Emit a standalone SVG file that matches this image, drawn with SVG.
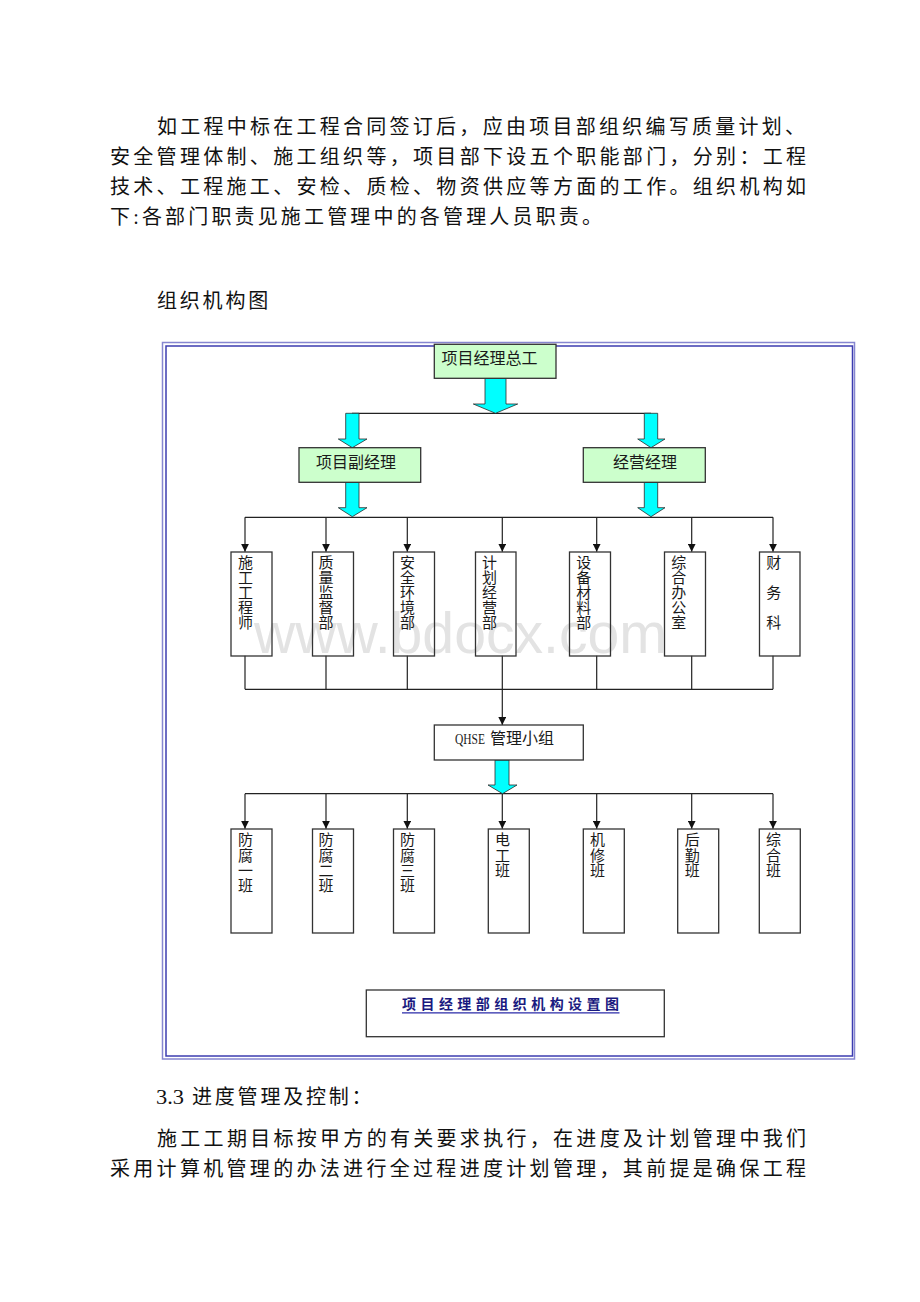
<svg xmlns="http://www.w3.org/2000/svg" width="920" height="1302" viewBox="0 0 920 1302">
<style>
.body{font-family:'Liberation Serif','Noto Sans CJK SC',serif;font-size:20px;fill:#111;}
.lbl{font-family:'Liberation Sans','Noto Sans CJK SC',sans-serif;font-size:16px;fill:#1a1a1a;}
.vt{font-family:'Liberation Sans','Noto Sans CJK SC',sans-serif;font-size:15px;fill:#1a1a1a;}
.box{fill:none;stroke:#333;stroke-width:1.3;}
.gbox{fill:#ccffcc;stroke:#333;stroke-width:1.3;}
.wbox{fill:#fff;stroke:#333;stroke-width:1.3;}
.ln{fill:none;stroke:#222;stroke-width:1.2;}
.arr{fill:none;stroke:#222;stroke-width:1.2;marker-end:url(#ah);}
.cyan{fill:#00ffff;stroke:#2b2b2b;stroke-width:0.8;}
.wm{font-family:'Liberation Sans',Arial,sans-serif;font-size:57px;fill:#e3e3e3;}
.cap{font-family:'Noto Sans CJK SC',sans-serif;font-size:14px;font-weight:bold;fill:#1a1a80;}
</style>
<defs>
<marker id="ah" viewBox="0 0 10 10" refX="10" refY="5" markerWidth="8" markerHeight="8" markerUnits="userSpaceOnUse" orient="auto">
<path d="M0,0 L10,5 L0,10 z" fill="#111"/>
</marker>
</defs>
<rect width="920" height="1302" fill="#fff"/>

<g id="text-top">
<text class="body" x="157" y="134.3" textLength="648" lengthAdjust="spacing">如工程中标在工程合同签订后，应由项目部组织编写质量计划、</text>
<text class="body" x="110" y="164.3" textLength="696" lengthAdjust="spacing">安全管理体制、施工组织等，项目部下设五个职能部门，分别：工程</text>
<text class="body" x="110" y="194.3" textLength="696" lengthAdjust="spacing">技术、工程施工、安检、质检、物资供应等方面的工作。组织机构如</text>
<text class="body" x="110" y="224.3" textLength="492" lengthAdjust="spacing">下:各部门职责见施工管理中的各管理人员职责。</text>
<text class="body" x="157" y="307.6" letter-spacing="2.8">组织机构图</text>
</g>

<g id="frame">
<rect x="162.5" y="342.5" width="692" height="716.5" fill="none" stroke="#8686d0" stroke-width="1.5"/>
<rect x="166" y="346" width="686.5" height="710" fill="none" stroke="#3c3cb0" stroke-width="1.5"/>
</g>

<text class="wm" x="254" y="653" textLength="413" lengthAdjust="spacingAndGlyphs">www.bdocx.com</text>

<g id="connectors">
<line class="ln" x1="352" y1="413.3" x2="651" y2="413.3"/>
<line class="ln" x1="245" y1="517.3" x2="773" y2="517.3"/>
<path class="arr" d="M245,517.3 V551.7"/>
<path class="arr" d="M326,517.3 V551.7"/>
<path class="arr" d="M407.3,517.3 V551.7"/>
<path class="arr" d="M502.3,517.3 V551.7"/>
<path class="arr" d="M596.7,517.3 V551.7"/>
<path class="arr" d="M691.7,517.3 V551.7"/>
<path class="arr" d="M773,517.3 V551.7"/>
<path class="ln" d="M245,655.7 V689.3 M326,655.7 V689.3 M407.3,655.7 V689.3 M502.3,655.7 V689.3 M596.7,655.7 V689.3 M691.7,655.7 V689.3 M773,655.7 V689.3 M245,689.3 H773"/>
<path class="arr" d="M502.3,689.3 V725"/>
<line class="ln" x1="245" y1="793.7" x2="773" y2="793.7"/>
<path class="arr" d="M245,793.7 V828.7"/>
<path class="arr" d="M326,793.7 V828.7"/>
<path class="arr" d="M407.3,793.7 V828.7"/>
<path class="arr" d="M502.3,793.7 V828.7"/>
<path class="arr" d="M596.7,793.7 V828.7"/>
<path class="arr" d="M691.7,793.7 V828.7"/>
<path class="arr" d="M773,793.7 V828.7"/>
<path class="cyan" d="M485,378.3 H506 V404 H517.7 L495.5,413.3 L473.3,404 H485 Z"/>
<path class="cyan" d="M345.7,413.3 H359 V439 H367 L352.3,447.7 L338.3,439 H345.7 Z"/>
<path class="cyan" d="M644.3,413.3 H657.7 V439 H665 L651,447.7 L637.7,439 H644.3 Z"/>
<path class="cyan" d="M345.7,482.3 H359 V507.7 H367 L352.3,516.7 L338.3,507.7 H345.7 Z"/>
<path class="cyan" d="M644.3,482.3 H657.7 V507.7 H665 L651,516.7 L637.7,507.7 H644.3 Z"/>
<path class="cyan" d="M495,760 H509 V785 H517 L502.5,793.7 L488,785 H495 Z"/>
</g>

<g id="n-zonggong">
<rect class="gbox" x="434.3" y="344.3" width="121.7" height="34"/>
<text class="lbl" x="489.5" y="364.4" text-anchor="middle">项目经理总工</text>
</g>
<g id="n-fujingli">
<rect class="gbox" x="299" y="447.7" width="121.7" height="34.6"/>
<text class="lbl" x="356" y="467.8" text-anchor="middle">项目副经理</text>
</g>
<g id="n-jingying">
<rect class="gbox" x="583.3" y="447.7" width="122" height="34.6"/>
<text class="lbl" x="645" y="467.8" text-anchor="middle">经营经理</text>
</g>

<g id="n-shigong">
<rect class="box" x="231" y="552" width="41" height="104"/>
<text class="vt" text-anchor="middle"><tspan x="245.5" y="568.2">施</tspan><tspan x="245.5" dy="15">工</tspan><tspan x="245.5" dy="15">工</tspan><tspan x="245.5" dy="15">程</tspan><tspan x="245.5" dy="15">师</tspan></text>
</g>
<g id="n-zhiliang">
<rect class="box" x="312.5" y="552" width="41" height="104"/>
<text class="vt" text-anchor="middle"><tspan x="326" y="568.2">质</tspan><tspan x="326" dy="15">量</tspan><tspan x="326" dy="15">监</tspan><tspan x="326" dy="15">督</tspan><tspan x="326" dy="15">部</tspan></text>
</g>
<g id="n-anquan">
<rect class="box" x="393.5" y="552" width="41" height="104"/>
<text class="vt" text-anchor="middle"><tspan x="407.5" y="568.2">安</tspan><tspan x="407.5" dy="15">全</tspan><tspan x="407.5" dy="15">环</tspan><tspan x="407.5" dy="15">境</tspan><tspan x="407.5" dy="15">部</tspan></text>
</g>
<g id="n-jihua">
<rect class="box" x="475.5" y="552" width="40.5" height="104"/>
<text class="vt" text-anchor="middle"><tspan x="489.5" y="568.2">计</tspan><tspan x="489.5" dy="15">划</tspan><tspan x="489.5" dy="15">经</tspan><tspan x="489.5" dy="15">营</tspan><tspan x="489.5" dy="15">部</tspan></text>
</g>
<g id="n-shebei">
<rect class="box" x="569.5" y="552" width="41" height="104"/>
<text class="vt" text-anchor="middle"><tspan x="583.7" y="568.2">设</tspan><tspan x="583.7" dy="15">备</tspan><tspan x="583.7" dy="15">材</tspan><tspan x="583.7" dy="15">料</tspan><tspan x="583.7" dy="15">部</tspan></text>
</g>
<g id="n-zonghe">
<rect class="box" x="664.5" y="552" width="41" height="104"/>
<text class="vt" text-anchor="middle"><tspan x="678.7" y="568.2">综</tspan><tspan x="678.7" dy="15">合</tspan><tspan x="678.7" dy="15">办</tspan><tspan x="678.7" dy="15">公</tspan><tspan x="678.7" dy="15">室</tspan></text>
</g>
<g id="n-caiwu">
<rect class="box" x="759.5" y="552" width="40.5" height="104"/>
<text class="vt" text-anchor="middle"><tspan x="773.7" y="568.2">财</tspan><tspan x="773.7" dy="30">务</tspan><tspan x="773.7" dy="30">科</tspan></text>
</g>

<g id="n-qhse">
<rect class="wbox" x="434.3" y="725" width="149" height="35"/>
<text y="744.4"><tspan x="455" font-family="'Liberation Serif',serif" font-size="15" fill="#1a1a1a" textLength="30" lengthAdjust="spacingAndGlyphs">QHSE</tspan><tspan x="490" class="lbl">管理小组</tspan></text>
</g>

<g id="n-fangfu1">
<rect class="box" x="231" y="829" width="41" height="104"/>
<text class="vt" text-anchor="middle"><tspan x="245.5" y="845.4">防</tspan><tspan x="245.5" dy="15.3">腐</tspan><tspan x="245.5" dy="15.3">一</tspan><tspan x="245.5" dy="15.3">班</tspan></text>
</g>
<g id="n-fangfu2">
<rect class="box" x="312.5" y="829" width="41" height="104"/>
<text class="vt" text-anchor="middle"><tspan x="326" y="845.4">防</tspan><tspan x="326" dy="15.3">腐</tspan><tspan x="326" dy="15.3">二</tspan><tspan x="326" dy="15.3">班</tspan></text>
</g>
<g id="n-fangfu3">
<rect class="box" x="393.5" y="829" width="41" height="104"/>
<text class="vt" text-anchor="middle"><tspan x="407.5" y="845.4">防</tspan><tspan x="407.5" dy="15.3">腐</tspan><tspan x="407.5" dy="15.3">三</tspan><tspan x="407.5" dy="15.3">班</tspan></text>
</g>
<g id="n-diangong">
<rect class="box" x="488.3" y="829" width="41" height="104"/>
<text class="vt" text-anchor="middle"><tspan x="502.5" y="845.4">电</tspan><tspan x="502.5" dy="15.3">工</tspan><tspan x="502.5" dy="15.3">班</tspan></text>
</g>
<g id="n-jixiu">
<rect class="box" x="583.3" y="829" width="41" height="104"/>
<text class="vt" text-anchor="middle"><tspan x="597.5" y="845.4">机</tspan><tspan x="597.5" dy="15.3">修</tspan><tspan x="597.5" dy="15.3">班</tspan></text>
</g>
<g id="n-houqin">
<rect class="box" x="677.7" y="829" width="41" height="104"/>
<text class="vt" text-anchor="middle"><tspan x="692.3" y="845.4">后</tspan><tspan x="692.3" dy="15.3">勤</tspan><tspan x="692.3" dy="15.3">班</tspan></text>
</g>
<g id="n-zongheban">
<rect class="box" x="759.3" y="829" width="41" height="104"/>
<text class="vt" text-anchor="middle"><tspan x="773.5" y="845.4">综</tspan><tspan x="773.5" dy="15.3">合</tspan><tspan x="773.5" dy="15.3">班</tspan></text>
</g>

<g id="n-caption">
<rect class="wbox" x="366.3" y="990" width="298" height="46.7" stroke-width="1.6"/>
<text class="cap" x="402" y="1009" textLength="217" lengthAdjust="spacing">项目经理部组织机构设置图</text>
<line x1="402" y1="1012.8" x2="619.5" y2="1012.8" stroke="#2a2aa8" stroke-width="1.2"/>
</g>

<g id="text-bottom">
<text class="body" x="156" y="1104.3" textLength="28" lengthAdjust="spacingAndGlyphs">3.3</text>
<text class="body" x="192" y="1104.3" letter-spacing="2.8">进度管理及控制：</text>
<text class="body" x="157" y="1145.6" textLength="649" lengthAdjust="spacing">施工工期目标按甲方的有关要求执行，在进度及计划管理中我们</text>
<text class="body" x="110" y="1175.6" textLength="696" lengthAdjust="spacing">采用计算机管理的办法进行全过程进度计划管理，其前提是确保工程</text>
</g>
</svg>
